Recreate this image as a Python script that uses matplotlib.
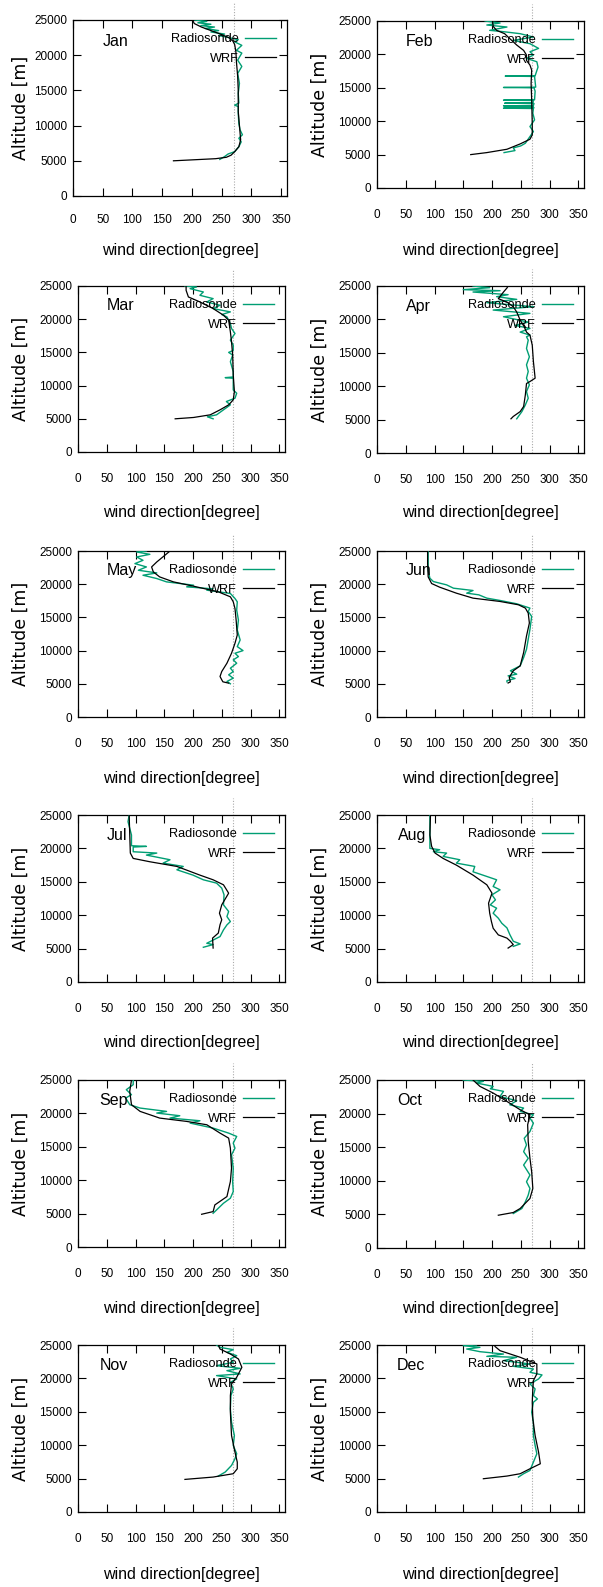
import matplotlib
matplotlib.use("Agg")
import matplotlib.pyplot as plt
from matplotlib import font_manager as fm
import matplotlib.transforms as mtransforms

# ---------------- data ----------------
months = ["Jan", "Feb", "Mar", "Apr", "May", "Jun", "Jul", "Aug", "Sep", "Oct", "Nov", "Dec"]
xticks = [0, 50, 100, 150, 200, 250, 300, 350]
yticks = [0, 5000, 10000, 15000, 20000, 25000]
ref_dir = 270

wrf_alt_jan = [5000, 5300, 5500, 5800, 6300, 7000, 8000, 9000, 10000, 12000, 15000, 17000, 19000, 20500, 21500, 22000, 22500, 23000, 23500, 24000, 24500, 25000]
wrf_dir_jan = [169, 240, 258, 266, 272, 279, 282, 281, 280, 278, 278, 277, 275, 274, 272, 269, 262, 248, 232, 216, 204, 201]
rs_alt_jan = [5200, 5600, 5970, 6300, 7000, 7700, 8200, 8700, 9400, 10300, 11700, 12700, 12900, 13200, 14600, 16000, 17400, 18400, 19300, 20300, 20700, 21400, 21900, 22200, 22500, 22800, 23000, 23300, 23500, 23800, 24000, 24200, 24400, 24600, 24800, 25000]
rs_dir_jan = [247, 255, 261, 272, 279, 283, 279, 285, 281, 279, 278, 278, 272, 279, 278, 280, 277, 284, 277, 284, 275, 284, 272, 278, 262, 245, 255, 232, 245, 222, 238, 215, 232, 210, 225, 205]

wrf_alt_feb = [5000, 5300, 5800, 6600, 7300, 7950, 9700, 13200, 15650, 17650, 18400, 19100, 19900, 20600, 21400, 22600, 23100, 23600, 24200, 25000]
wrf_dir_feb = [163, 191, 226, 249, 266, 270, 270, 269, 268, 269, 266, 260, 260, 255, 243, 228, 222, 208, 202, 201]
rs_alt_feb = [5300, 5600, 6000, 6300, 6700, 7200, 7700, 8450, 9200, 10200, 11200, 11900, 11950, 12000, 12250, 12300, 12350, 12650, 12700, 12750, 13100, 13150, 13200, 14500, 15000, 15050, 15100, 16700, 16750, 16800, 18100, 18900, 19400, 19900, 20400, 20900, 21600, 22100, 22600, 23100, 23400, 23600, 24100, 24400, 24700, 25000]
rs_dir_feb = [221, 240, 237, 250, 258, 262, 266, 272, 266, 274, 271, 272, 220, 273, 271, 220, 272, 273, 222, 271, 272, 220, 274, 275, 273, 220, 276, 274, 223, 275, 280, 278, 260, 272, 266, 281, 266, 237, 272, 249, 220, 196, 226, 191, 214, 188]

wrf_alt_mar = [5000, 5200, 5600, 6350, 7100, 7850, 9100, 11600, 14600, 16600, 18100, 19850, 20600, 21600, 22600, 23350, 24350, 25000]
wrf_dir_mar = [169, 201, 230, 247, 262, 270, 272, 270, 269, 267, 265, 262, 253, 235, 212, 192, 188, 188]
rs_alt_mar = [5000, 5300, 5600, 6350, 7100, 7600, 8100, 8850, 9350, 11100, 11200, 11300, 12100, 13600, 14600, 15000, 15300, 16100, 16850, 17850, 18600, 19350, 20350, 20700, 21100, 21600, 22100, 22600, 23100, 23600, 24100, 24600, 24850, 25000]
rs_dir_mar = [235, 225, 241, 253, 265, 258, 273, 276, 270, 270, 256, 270, 270, 265, 269, 262, 270, 270, 265, 273, 267, 265, 259, 250, 265, 235, 247, 224, 235, 212, 218, 195, 206, 186]

wrf_alt_apr = [5120, 5470, 6200, 6960, 8700, 10400, 10700, 11200, 13700, 16150, 17650, 18100, 18900, 19900, 21100, 21900, 22600, 23100, 24100, 24700, 25000]
wrf_dir_apr = [233, 237, 249, 255, 258, 260, 266, 275, 272, 270, 266, 260, 256, 249, 243, 237, 226, 211, 220, 226, 228]
rs_alt_apr = [5120, 6200, 7200, 8200, 9200, 10200, 11200, 12200, 13200, 14400, 15650, 16900, 17400, 17650, 18100, 18650, 19100, 19600, 20400, 20900, 21400, 21900, 22500, 23000, 23400, 23700, 24100, 24300, 24450, 24750, 25000]
rs_dir_apr = [243, 252, 258, 263, 260, 265, 260, 263, 260, 265, 260, 263, 260, 266, 249, 266, 240, 263, 220, 266, 202, 272, 191, 243, 208, 228, 167, 214, 150, 196, 167]

wrf_alt_may = [5100, 5300, 5600, 6100, 6850, 8100, 9600, 11100, 12350, 14600, 16350, 17350, 18100, 18850, 19700, 20350, 21100, 21850, 22600, 23350, 24350, 25000]
wrf_dir_may = [262, 252, 250, 247, 250, 259, 267, 273, 277, 275, 273, 270, 265, 244, 201, 166, 142, 131, 128, 137, 151, 160]
rs_alt_may = [5000, 5350, 5850, 6350, 6850, 7350, 8100, 8600, 9100, 9600, 10000, 10600, 11600, 13100, 14600, 16100, 17350, 17850, 18600, 19100, 19300, 19600, 19850, 20350, 20850, 21350, 21700, 22100, 22600, 23100, 23600, 24100, 24500, 24850, 25000]
rs_dir_may = [265, 259, 270, 262, 270, 265, 276, 270, 279, 273, 287, 277, 282, 277, 279, 276, 277, 273, 265, 224, 235, 189, 201, 154, 137, 113, 137, 105, 119, 99, 113, 102, 125, 102, 119]

wrf_alt_jun = [5120, 5300, 5960, 6960, 7700, 9700, 12200, 14150, 15650, 16400, 16900, 17400, 17900, 18650, 19550, 20100, 21100, 23100, 25000]
wrf_dir_jun = [228, 232, 230, 237, 249, 255, 260, 265, 263, 258, 246, 214, 167, 138, 109, 95, 89, 88, 88]
rs_alt_jun = [5300, 5470, 5800, 6200, 6450, 6960, 7700, 8950, 10200, 11700, 13200, 15150, 15900, 16400, 17050, 17550, 17900, 18400, 18650, 19050, 19400, 19900, 20400, 20900, 22100, 25000]
rs_dir_jun = [226, 226, 240, 228, 243, 232, 249, 255, 260, 263, 266, 269, 263, 266, 243, 214, 191, 177, 156, 167, 133, 121, 98, 92, 89, 89]

wrf_alt_jul = [5080, 6570, 7320, 8570, 9320, 10300, 11550, 13300, 14550, 15300, 16000, 17300, 18000, 18500, 19300, 22000, 25000]
wrf_dir_jul = [235, 234, 244, 247, 250, 246, 250, 262, 253, 235, 212, 172, 125, 96, 91, 90, 89]
rs_alt_jul = [5200, 5600, 5800, 6800, 7800, 8550, 9050, 9800, 10550, 11550, 13050, 14050, 14800, 15300, 16000, 16800, 17300, 17800, 18300, 19000, 19300, 19500, 20200, 20300, 20400, 22000, 24000, 25000]
rs_dir_jul = [218, 235, 224, 247, 253, 259, 265, 259, 262, 253, 254, 250, 241, 218, 200, 172, 183, 148, 160, 119, 137, 96, 96, 119, 93, 93, 87, 89]

wrf_alt_aug = [5080, 5600, 6100, 6570, 7050, 8050, 9050, 10300, 11800, 13300, 14550, 16000, 17500, 18500, 19300, 20300, 22000, 25000]
wrf_dir_aug = [228, 237, 232, 226, 211, 202, 199, 196, 194, 200, 191, 167, 138, 115, 101, 95, 92, 93]
rs_alt_aug = [5330, 5700, 6100, 7100, 8100, 8800, 9550, 10300, 11050, 11550, 12300, 13050, 13800, 14300, 15300, 15800, 16500, 17300, 17800, 18300, 18800, 19300, 19500, 19800, 20000, 22000, 25000]
rs_dir_aug = [237, 249, 237, 231, 226, 217, 211, 202, 208, 197, 206, 200, 214, 202, 208, 191, 167, 170, 138, 144, 115, 121, 98, 109, 92, 92, 92]

wrf_alt_sep = [4900, 5300, 6300, 7550, 9800, 11800, 14800, 16300, 17050, 18300, 18800, 19300, 20300, 21300, 23300, 25000]
wrf_dir_sep = [215, 235, 238, 259, 265, 267, 265, 262, 247, 224, 189, 142, 108, 93, 90, 93]
rs_alt_sep = [5050, 6050, 6550, 7300, 8300, 9800, 11800, 13800, 14800, 15550, 16550, 17050, 17800, 18550, 18900, 19300, 19650, 20050, 20300, 20800, 21300, 22300, 22800, 23550, 24300, 25000]
rs_dir_sep = [235, 247, 253, 265, 270, 269, 270, 267, 273, 270, 276, 262, 235, 195, 212, 160, 177, 137, 154, 108, 90, 83, 93, 84, 96, 96]

wrf_alt_oct = [4880, 5280, 5880, 7370, 8860, 11350, 13350, 15840, 18330, 19820, 20570, 21810, 23060, 24050, 25000]
wrf_dir_oct = [211, 237, 249, 266, 271, 269, 266, 263, 262, 266, 249, 226, 202, 179, 167]
rs_alt_oct = [5130, 5880, 6870, 7870, 8860, 9860, 10860, 12350, 13350, 14340, 15340, 16330, 17330, 18580, 19320, 19820, 20320, 20820, 21310, 21910, 22560, 23310, 23700, 24050, 24550, 24800, 25000]
rs_dir_oct = [237, 252, 258, 263, 266, 260, 266, 255, 263, 255, 260, 256, 266, 272, 266, 272, 249, 255, 231, 243, 214, 220, 197, 202, 173, 185, 150]

wrf_alt_nov = [4880, 5230, 5730, 6470, 7470, 8960, 11450, 14940, 17430, 19170, 20170, 21660, 22910, 23650, 24400, 25000]
wrf_dir_nov = [186, 235, 270, 277, 277, 273, 267, 265, 265, 267, 276, 285, 279, 265, 247, 244]
rs_alt_nov = [5380, 5980, 6970, 7970, 8720, 9960, 11450, 13450, 15440, 17430, 18430, 19420, 19920, 20420, 20670, 21160, 21510, 21910, 22410, 22910, 23400, 23900, 24300, 24650, 25000]
rs_dir_nov = [244, 256, 267, 273, 276, 270, 272, 267, 265, 266, 270, 265, 276, 241, 282, 259, 282, 241, 270, 265, 276, 259, 270, 247, 241]

wrf_alt_dec = [4980, 5380, 5730, 6470, 7220, 8960, 11450, 13940, 16430, 18430, 19670, 20670, 22160, 23160, 24150, 24800, 25000]
wrf_dir_dec = [185, 226, 249, 266, 284, 281, 275, 271, 270, 271, 272, 278, 278, 249, 214, 205, 205]
rs_alt_dec = [5230, 5730, 6220, 7470, 8720, 9960, 11450, 13450, 14940, 16430, 16930, 17430, 18430, 19170, 19920, 20520, 20920, 21410, 21810, 22160, 22660, 23160, 23300, 23650, 24000, 24400, 24650, 24900, 25000]
rs_dir_dec = [246, 255, 266, 272, 278, 275, 272, 272, 269, 272, 279, 272, 275, 266, 281, 287, 266, 272, 237, 266, 220, 243, 191, 220, 179, 156, 179, 150, 173]

wrf_alts = [wrf_alt_jan, wrf_alt_feb, wrf_alt_mar, wrf_alt_apr, wrf_alt_may, wrf_alt_jun,
            wrf_alt_jul, wrf_alt_aug, wrf_alt_sep, wrf_alt_oct, wrf_alt_nov, wrf_alt_dec]
wrf_dirs = [wrf_dir_jan, wrf_dir_feb, wrf_dir_mar, wrf_dir_apr, wrf_dir_may, wrf_dir_jun,
            wrf_dir_jul, wrf_dir_aug, wrf_dir_sep, wrf_dir_oct, wrf_dir_nov, wrf_dir_dec]
rs_alts = [rs_alt_jan, rs_alt_feb, rs_alt_mar, rs_alt_apr, rs_alt_may, rs_alt_jun,
           rs_alt_jul, rs_alt_aug, rs_alt_sep, rs_alt_oct, rs_alt_nov, rs_alt_dec]
rs_dirs = [rs_dir_jan, rs_dir_feb, rs_dir_mar, rs_dir_apr, rs_dir_may, rs_dir_jun,
           rs_dir_jul, rs_dir_aug, rs_dir_sep, rs_dir_oct, rs_dir_nov, rs_dir_dec]

# month label x position (data units)
label_x = [50, 50, 50, 50, 50, 50, 50, 36, 37, 35, 37, 35]

# ---------------- layout (pixels: left, top, right, bottom) ----------------
W, H = 603, 1587
boxes = [(73, 20, 287, 196), (377, 21, 584, 188),
         (78, 286, 285, 452), (377, 286, 584, 453),
         (78, 551, 285, 717), (377, 551, 584, 717),
         (78, 815, 285, 982), (377, 815, 584, 982),
         (78, 1080, 285, 1247), (377, 1080, 584, 1248),
         (78, 1345, 285, 1512), (377, 1345, 584, 1512)]
xlab_y = [250, 250, 513, 513, 778, 778, 1043, 1043, 1309, 1309, 1574, 1574]

avail = {f.name for f in fm.fontManager.ttflist}
if "Liberation Sans Narrow" in avail:
    narrow = "Liberation Sans Narrow"
    sz_tick, sz_xlab, sz_leg, sz_mon = 9.5, 12.5, 10, 12
else:
    narrow = "Liberation Sans"
    sz_tick, sz_xlab, sz_leg, sz_mon = 8.5, 11.5, 9.2, 11.5

green = "#009e73"

fig = plt.figure(figsize=(W / 100, H / 100), dpi=100)
fig.patch.set_facecolor("white")

for i, m in enumerate(months):
    l, t, r, b = boxes[i]
    w, h = r - l, b - t
    ax = fig.add_axes([l / W, 1 - b / H, w / W, h / H])
    ax.set_xlim(0, 360)
    ax.set_ylim(0, 25000)
    ax.set_xticks(xticks)
    ax.set_yticks(yticks)
    ax.tick_params(direction="in", length=6, width=0.8, top=True, right=True,
                   labelsize=sz_tick, colors="black")
    ax.tick_params(axis="x", pad=13 if i == 0 else 15)
    ax.tick_params(axis="y", pad=4)
    for lab in ax.get_xticklabels() + ax.get_yticklabels():
        lab.set_family(narrow)
    for s in ax.spines.values():
        s.set_linewidth(0.9)

    # reference dotted line at 270 deg, extending above the frame
    trans = mtransforms.blended_transform_factory(ax.transData, ax.transAxes)
    ax.plot([ref_dir, ref_dir], [0, 1 + 17 / h], transform=trans, color="#aaaaaa",
            lw=0.8, ls=(0, (1, 1.5)), clip_on=False, zorder=1)

    ax.plot(rs_dirs[i], rs_alts[i], color=green, lw=1.0, label="Radiosonde", zorder=3)
    ax.plot(wrf_dirs[i], wrf_alts[i], color="black", lw=0.9, label="WRF", zorder=4)

    ax.text(label_x[i], 22000, m, ha="left", va="center", fontsize=sz_mon, family=narrow)

    ax.legend(loc="upper right", bbox_to_anchor=(1 - 11 / w, 1 - 13 / h),
              frameon=False, markerfirst=False, handlelength=2.4, handletextpad=0.5,
              borderpad=0, borderaxespad=0, labelspacing=0.6,
              prop={"family": narrow, "size": sz_leg})

    ax.set_ylabel("Altitude [m]", fontsize=12.5, family="DejaVu Sans")
    ylab_px = 30 if l < 300 else 329
    ax.yaxis.set_label_coords((ylab_px - l) / w, 0.5)
    ax.set_xlabel("wind direction[degree]", fontsize=sz_xlab, family=narrow, va="center")
    ax.xaxis.set_label_coords(0.5, -(xlab_y[i] - b) / h)

fig.savefig("out.png", dpi=100, facecolor="white")
